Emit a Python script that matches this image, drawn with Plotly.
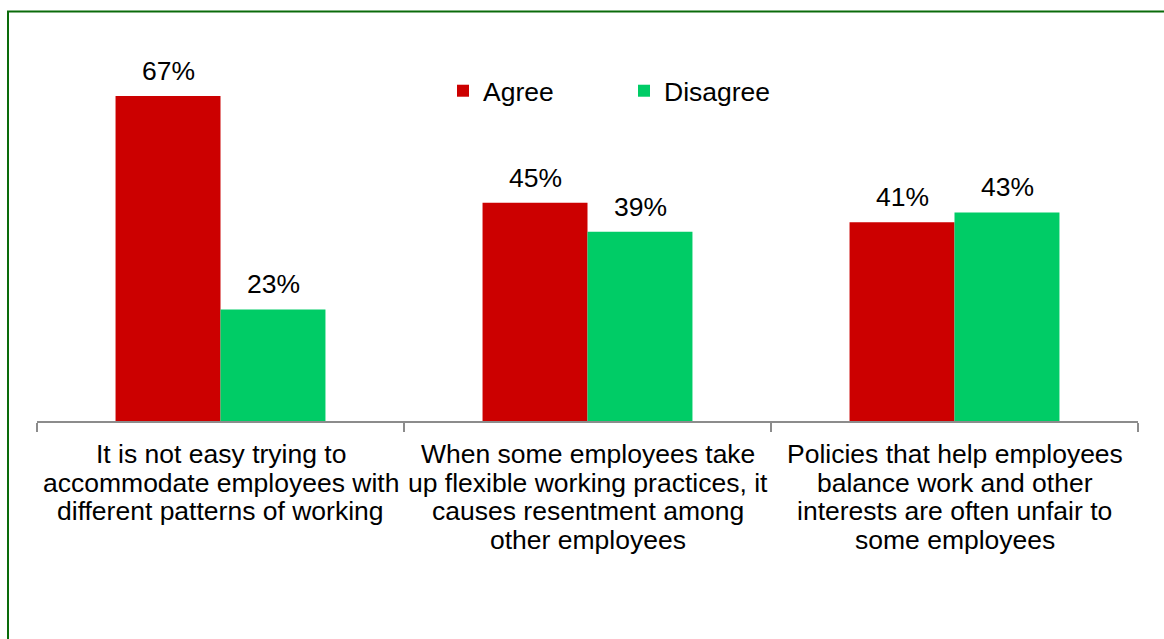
import plotly.graph_objects as go

categories = [
    "It is not easy trying to<br>accommodate employees with<br>different patterns of working",
    "When some employees take<br>up flexible working practices, it<br>causes resentment among<br>other employees",
    "Policies that help employees<br>balance work and other<br>interests are often unfair to<br>some employees",
]
agree = [67, 45, 41]
disagree = [23, 39, 43]
series_names = ["Agree", "Disagree"]
colors = ["#CC0000", "#00CC66"]

W, H = 1164, 639
FONT = "Arial, Liberation Sans, sans-serif"
FS = 26.5

fig = go.Figure()
for name, vals, col in zip(series_names, [agree, disagree], colors):
    fig.add_trace(go.Bar(x=categories, y=vals, name=name, marker=dict(color=col, line=dict(width=0))))

# data labels
bar_px = 105
for vals, shift in [(agree, -bar_px / 2), (disagree, bar_px / 2)]:
    for c, v in zip(categories, vals):
        fig.add_annotation(x=c, y=v, text=f"{v}%", showarrow=False, xshift=shift,
                           yanchor="bottom", yshift=8, font=dict(size=FS, color="black", family=FONT))

# category labels, one line per annotation for tighter line spacing
for c in categories:
    for i, line in enumerate(c.split("<br>")):
        fig.add_annotation(x=c, y=0, text=line, showarrow=False, yanchor="middle",
                           yshift=-(33 + i * 28.7), font=dict(size=FS, color="black", family=FONT))

fig.add_shape(type="rect", xref="paper", yref="paper", x0=8 / W, x1=1.02, y0=-0.02, y1=1 - 11.5 / H,
              line=dict(color="#0A6B0A", width=2), fillcolor="rgba(0,0,0,0)", layer="above")

fig.update_layout(
    width=W, height=H,
    margin=dict(l=0, r=0, t=0, b=0),
    paper_bgcolor="white", plot_bgcolor="white",
    font=dict(family=FONT, size=FS, color="black"),
    barmode="group", bargap=0.428, bargroupgap=0,
    showlegend=True,
    legend=dict(orientation="h", x=443 / W, xanchor="left", y=1 - 91 / H, yanchor="middle",
                font=dict(size=FS, family=FONT), entrywidth=136, entrywidthmode="pixels",
                itemwidth=30, bgcolor="rgba(0,0,0,0)"),
    xaxis=dict(domain=[37 / W, 1138 / W], showline=True, linecolor="#8C8C8C", linewidth=2,
               ticks="outside", tickson="boundaries", ticklen=9, tickcolor="#8C8C8C", tickwidth=2,
               showgrid=False, showticklabels=False),
    yaxis=dict(domain=[(H - 421) / H, (H - 40) / H], range=[0, 381 / 4.85], visible=False, showgrid=False),
)

fig.write_html("out.html")
